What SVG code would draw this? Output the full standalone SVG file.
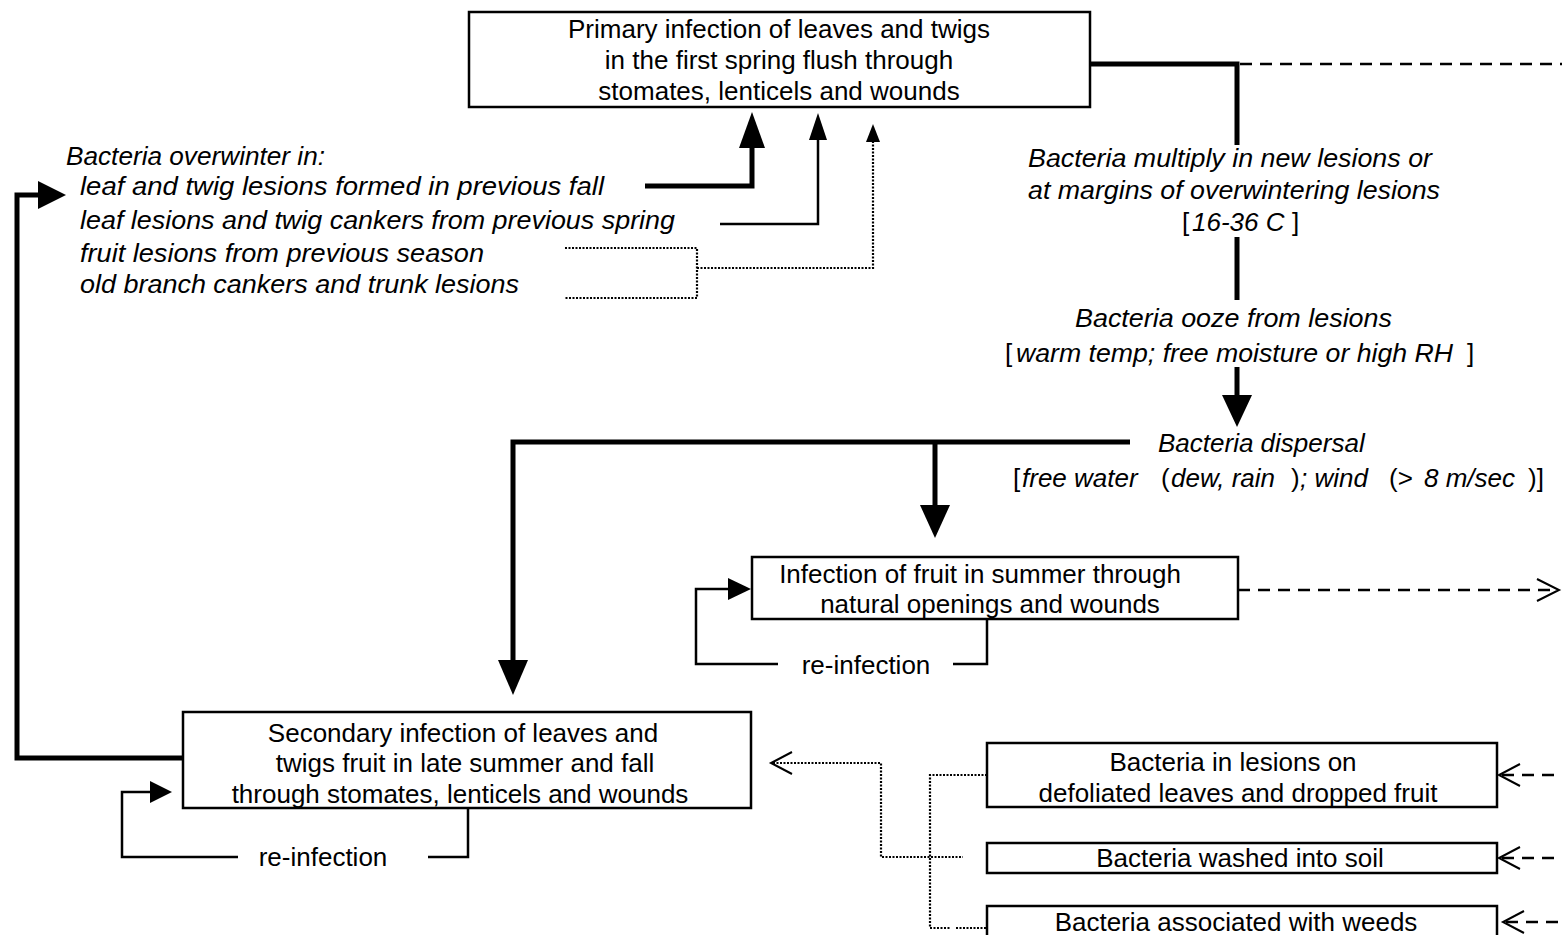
<svg xmlns="http://www.w3.org/2000/svg" width="1562" height="935" viewBox="0 0 1562 935">
<style>
text{font-family:"Liberation Sans",Arial,sans-serif;font-size:26px;fill:#000}
.c{text-anchor:middle}
.i{font-style:italic}
.box{fill:#fff;stroke:#000;stroke-width:2.5}
.thick{fill:none;stroke:#000;stroke-width:5}
.med{fill:none;stroke:#000;stroke-width:2.5}
.dot{fill:none;stroke:#000;stroke-width:2.2;stroke-dasharray:2 1.5}
.dash{fill:none;stroke:#000;stroke-width:2.3;stroke-dasharray:12 8}
.open{fill:none;stroke:#000;stroke-width:2}
.head{fill:#000;stroke:none}
</style>
<rect width="1562" height="935" fill="#fff"/>
<g id="connectors">
<polyline class="thick" points="645,186 752,186 752,146"/>
<polygon class="head" points="752,112 739,148 765,148"/>
<polyline class="med" points="720,224 818,224 818,138"/>
<polygon class="head" points="818,113 809,140 827,140"/>
<polyline class="dot" points="565,248 697,248 697,298 565,298"/>
<polyline class="dot" points="697,268 873,268 873,140"/>
<polygon class="head" points="873,124 866,142 880,142"/>
<polyline class="thick" points="183,758 17,758 17,195 40,195"/>
<polygon class="head" points="66,195 38,181 38,209"/>
<polyline class="thick" points="1090,64 1237,64 1237,145"/>
<line class="dash" x1="1240" y1="64" x2="1562" y2="64"/>
<line class="thick" x1="1237" y1="237" x2="1237" y2="300"/>
<line class="thick" x1="1237" y1="367" x2="1237" y2="397"/>
<polygon class="head" points="1237,427 1222,395 1252,395"/>
<polyline class="thick" points="1130,442 513,442 513,662"/>
<polygon class="head" points="513,695 498,660 528,660"/>
<line class="thick" x1="935" y1="442" x2="935" y2="507"/>
<polygon class="head" points="935,538 920,505 950,505"/>
<polyline class="med" points="953,664 987,664 987,619"/>
<polyline class="med" points="778,664 696,664 696,589 730,589"/>
<polygon class="head" points="751,589 728,578 728,600"/>
<line class="dash" x1="1238" y1="590" x2="1556" y2="590"/>
<polyline class="open" points="1537,579 1559,590 1537,601"/>
<polyline class="med" points="428,857 468,857 468,808"/>
<polyline class="med" points="238,857 122,857 122,792 152,792"/>
<polygon class="head" points="172,792 150,781 150,803"/>
<polyline class="open" points="792,752 771,763 792,774"/>
<polyline class="dot" points="773,763 881,763 881,857 963,857"/>
<polyline class="dot" points="987,775 930,775 930,928 950,928"/>
<line class="dot" x1="956" y1="928" x2="987" y2="928"/>
<line class="dash" x1="1502" y1="775" x2="1562" y2="775"/>
<polyline class="open" points="1520,764 1499,775 1520,786"/>
<line class="dash" x1="1502" y1="858" x2="1562" y2="858"/>
<polyline class="open" points="1520,847 1499,858 1520,869"/>
<line class="dash" x1="1506" y1="922" x2="1562" y2="922"/>
<polyline class="open" points="1524,911 1503,922 1524,933"/>
</g>
<g id="primary">
<rect class="box" x="469" y="12" width="621" height="95"/>
<text class="c" x="779" y="38">Primary infection of leaves and twigs</text>
<text class="c" x="779" y="69">in the first spring flush through</text>
<text class="c" x="779" y="100">stomates, lenticels and wounds</text>
</g>
<g id="overwinter">
<text class="i" x="66" y="165" textLength="259" lengthAdjust="spacingAndGlyphs">Bacteria overwinter in:</text>
<text class="i" x="80" y="195" textLength="524" lengthAdjust="spacingAndGlyphs">leaf and twig lesions formed in previous fall</text>
<text class="i" x="80" y="229" textLength="595" lengthAdjust="spacingAndGlyphs">leaf lesions and twig cankers from previous spring</text>
<text class="i" x="80" y="262" textLength="404" lengthAdjust="spacingAndGlyphs">fruit lesions from previous season</text>
<text class="i" x="80" y="293" textLength="439" lengthAdjust="spacingAndGlyphs">old branch cankers and trunk lesions</text>
</g>
<g id="multiply">
<text class="i" x="1028" y="167" textLength="404" lengthAdjust="spacingAndGlyphs">Bacteria multiply in new lesions or</text>
<text class="i" x="1028" y="199" textLength="412" lengthAdjust="spacingAndGlyphs">at margins of overwintering lesions</text>
<text x="1182" y="231">[</text>
<text class="i" x="1192" y="231">16-36 C</text>
<text x="1292" y="231">]</text>
</g>
<g id="ooze">
<text class="i" x="1075" y="327" textLength="317" lengthAdjust="spacingAndGlyphs">Bacteria ooze from lesions</text>
<text x="1005" y="362">[</text>
<text class="i" x="1016" y="362" textLength="437" lengthAdjust="spacingAndGlyphs">warm temp; free moisture or high RH</text>
<text x="1467" y="362">]</text>
</g>
<g id="dispersal">
<text class="i" x="1158" y="452">Bacteria dispersal</text>
<text x="1013" y="487">[</text>
<text class="i" x="1022" y="487">free water</text>
<text x="1161" y="487">(</text>
<text class="i" x="1171" y="487">dew, rain</text>
<text x="1291" y="487">)</text>
<text class="i" x="1300" y="487">; wind</text>
<text x="1389" y="487">(&gt;</text>
<text class="i" x="1424" y="487">8 m/sec</text>
<text x="1528" y="487">)]</text>
</g>
<g id="fruit">
<rect class="box" x="752" y="557" width="486" height="62"/>
<text class="c" x="980" y="583">Infection of fruit in summer through</text>
<text class="c" x="990" y="613">natural openings and wounds</text>
<text class="c" x="866" y="674">re-infection</text>
</g>
<g id="secondary">
<rect class="box" x="183" y="712" width="568" height="96"/>
<text class="c" x="463" y="742">Secondary infection of leaves and</text>
<text class="c" x="465" y="772">twigs fruit in late summer and fall</text>
<text class="c" x="460" y="803">through stomates, lenticels and wounds</text>
<text class="c" x="323" y="866">re-infection</text>
</g>
<g id="lesions">
<rect class="box" x="987" y="743" width="510" height="64"/>
<text class="c" x="1233" y="771">Bacteria in lesions on</text>
<text class="c" x="1238" y="802">defoliated leaves and dropped fruit</text>
</g>
<g id="soil">
<rect class="box" x="987" y="843" width="510" height="30"/>
<text class="c" x="1240" y="867">Bacteria washed into soil</text>
</g>
<g id="weeds">
<rect class="box" x="987" y="906" width="510" height="40"/>
<text class="c" x="1236" y="931">Bacteria associated with weeds</text>
</g>
</svg>
